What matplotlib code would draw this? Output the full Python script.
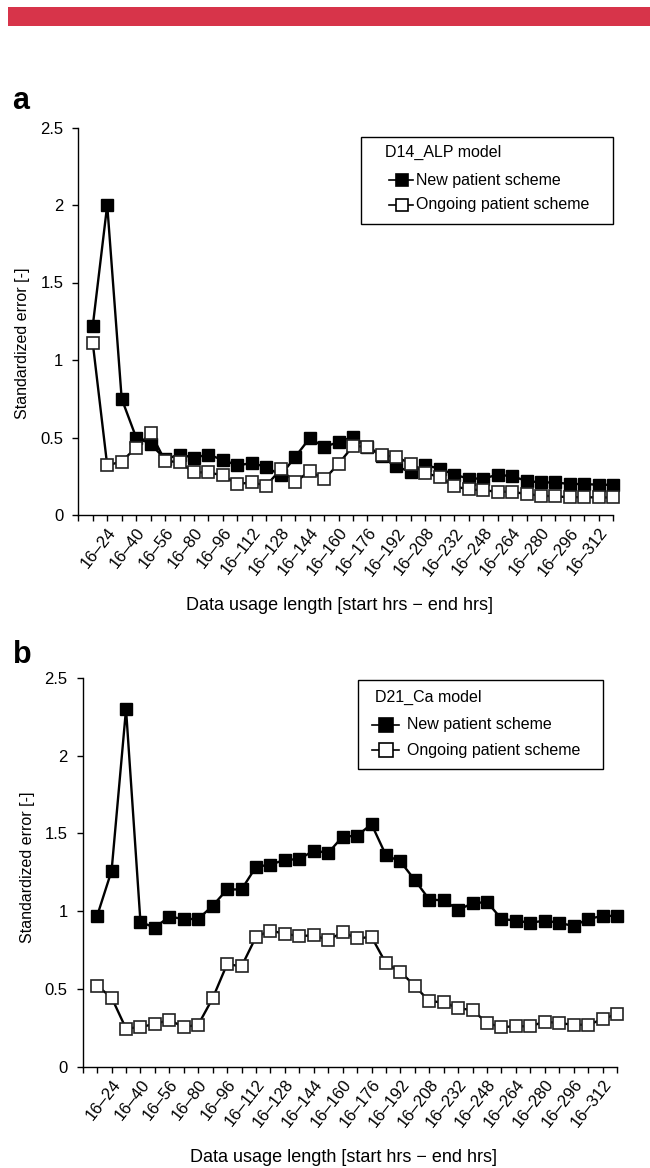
import numpy as np
import matplotlib.pyplot as plt
import matplotlib.transforms as mtransforms
from matplotlib.patches import Rectangle
from matplotlib.lines import Line2D

plt.rcParams['font.family'] = ['Liberation Sans', 'DejaVu Sans']

# 37 data windows (start 16 h), labelled every second window
window = np.arange(1, 38)
tick_labels = ["16–24", "16–40", "16–56", "16–80", "16–96", "16–112", "16–128",
               "16–144", "16–160", "16–176", "16–192", "16–208", "16–232",
               "16–248", "16–264", "16–280", "16–296", "16–312"]
labelled = window[1::2]

# panel a: D14_ALP model
alp_new = [1.22, 2.00, 0.75, 0.50, 0.46, 0.36, 0.39, 0.37, 0.39, 0.355, 0.32, 0.335,
           0.31, 0.255, 0.375, 0.495, 0.44, 0.47, 0.505, 0.44, 0.38, 0.315, 0.275,
           0.32, 0.30, 0.26, 0.235, 0.235, 0.26, 0.25, 0.22, 0.21, 0.21, 0.20, 0.20,
           0.195, 0.195]
alp_ongoing = [1.11, 0.32, 0.345, 0.435, 0.53, 0.35, 0.34, 0.275, 0.275, 0.255, 0.20,
               0.21, 0.19, 0.295, 0.21, 0.285, 0.23, 0.33, 0.445, 0.44, 0.385, 0.375,
               0.33, 0.27, 0.245, 0.185, 0.165, 0.16, 0.15, 0.15, 0.135, 0.125, 0.12,
               0.115, 0.115, 0.113, 0.113]

# panel b: D21_Ca model
ca_new = [0.97, 1.26, 2.30, 0.93, 0.895, 0.965, 0.95, 0.95, 1.035, 1.14, 1.14, 1.285,
          1.30, 1.33, 1.335, 1.39, 1.375, 1.48, 1.485, 1.56, 1.36, 1.32, 1.20, 1.075,
          1.07, 1.01, 1.05, 1.06, 0.95, 0.94, 0.925, 0.94, 0.925, 0.905, 0.95, 0.97,
          0.97]
ca_ongoing = [0.52, 0.445, 0.245, 0.255, 0.275, 0.30, 0.255, 0.27, 0.44, 0.66, 0.645,
              0.835, 0.875, 0.855, 0.84, 0.845, 0.815, 0.865, 0.825, 0.835, 0.665,
              0.61, 0.52, 0.42, 0.415, 0.375, 0.365, 0.28, 0.255, 0.26, 0.26, 0.29,
              0.28, 0.27, 0.27, 0.305, 0.34]

W, H = 650, 1168
fig = plt.figure(figsize=(W / 100, H / 100), dpi=100)
FS = 11.5


def fx(x):
    return x / W


def fy(y):
    return 1 - y / H


# red banner at the top
fig.patches.append(Rectangle((fx(8), fy(26)), 1 - fx(8), (26 - 7) / H,
                             transform=fig.transFigure, color="#d7344a", lw=0))

MS = 9.2
shift = mtransforms.ScaledTranslation(-9 / 100, -14 / 100, fig.dpi_scale_trans)


def panel(rect, new, ongoing, ylab_y):
    ax = fig.add_axes(rect)
    ax.plot(window, new, "-s", color="black", lw=1.7, ms=MS, mfc="black",
            mec="black", mew=1.0, clip_on=False, zorder=3)
    ax.plot(window, ongoing, "-s", color="black", lw=1.7, ms=MS, mfc="white",
            mec="#222222", mew=1.2, clip_on=False, zorder=4)
    ax.set_xlim(0, 37)
    ax.set_ylim(0, 2.5)
    ax.set_yticks([0, 0.5, 1, 1.5, 2, 2.5], ["0", "0.5", "1", "1.5", "2", "2.5"])
    labs = ["" for _ in range(38)]
    for p, t in zip(labelled, tick_labels):
        labs[p] = t
    ax.set_xticks(np.arange(0, 38), labs)
    for t in ax.get_xticklabels():
        t.set_rotation(52)
        t.set_ha("right")
        t.set_va("top")
        t.set_rotation_mode("anchor")
        t.set_fontsize(12)
        t.set_transform(t.get_transform() + shift)
    ax.tick_params(axis="both", direction="out", length=4.3, width=1.0,
                   color="black")
    ax.tick_params(axis="y", pad=6.5, labelsize=12)
    ax.tick_params(axis="x", pad=3)
    for s in ("top", "right"):
        ax.spines[s].set_visible(False)
    for s in ("left", "bottom"):
        ax.spines[s].set_linewidth(1.0)
    ax.set_ylabel("Standardized error [-]", fontsize=FS)
    ax.yaxis.set_label_coords(-48 / (rect[2] * W), ylab_y)
    ax.set_xlabel("Data usage length [start hrs \u2212 end hrs]", fontsize=13)
    ax.xaxis.set_label_coords(0.489, -0.212)
    return ax


ax_a = panel([fx(78.3), fy(515), (613.3 - 78.3) / W, (515 - 127.5) / H],
             alp_new, alp_ongoing, 0.444)
ax_b = panel([fx(82.7), fy(1066.7), (617 - 82.7) / W, (1066.7 - 678) / H],
             ca_new, ca_ongoing, 0.514)


def key(box, title, title_x, rows, line_x, mark_x, text_x, ms):
    x0, y0, x1, y1 = box
    fig.patches.append(Rectangle((fx(x0), fy(y1)), (x1 - x0) / W, (y1 - y0) / H,
                                 transform=fig.transFigure, fill=False,
                                 ec="black", lw=1.0))
    fig.text(fx(title_x), fy(rows[0]), title, fontsize=FS, va="center")
    for y, fc, name in [(rows[1], "black", "New patient scheme"),
                        (rows[2], "white", "Ongoing patient scheme")]:
        fig.add_artist(Line2D([fx(line_x[0]), fx(line_x[1])], [fy(y), fy(y)],
                              color="black", lw=1.2, transform=fig.transFigure))
        fig.add_artist(Line2D([fx(mark_x)], [fy(y)], marker="s", ms=ms, mfc=fc,
                              mec="black", mew=1.2, transform=fig.transFigure))
        fig.text(fx(text_x), fy(y), name, fontsize=FS, va="center")


key((361, 137, 613, 224), "D14_ALP model", 385, (152, 180, 205),
    (389, 413), 402, 416, 9)
key((358, 680, 603, 769), "D21_Ca model", 375, (697, 725, 750),
    (372, 399), 386, 407, 10.5)

fig.text(fx(12), fy(109), "a", fontsize=22, fontweight="bold", va="baseline")
fig.text(fx(13), fy(663), "b", fontsize=22, fontweight="bold", va="baseline")

fig.savefig("out.png", dpi=100)
